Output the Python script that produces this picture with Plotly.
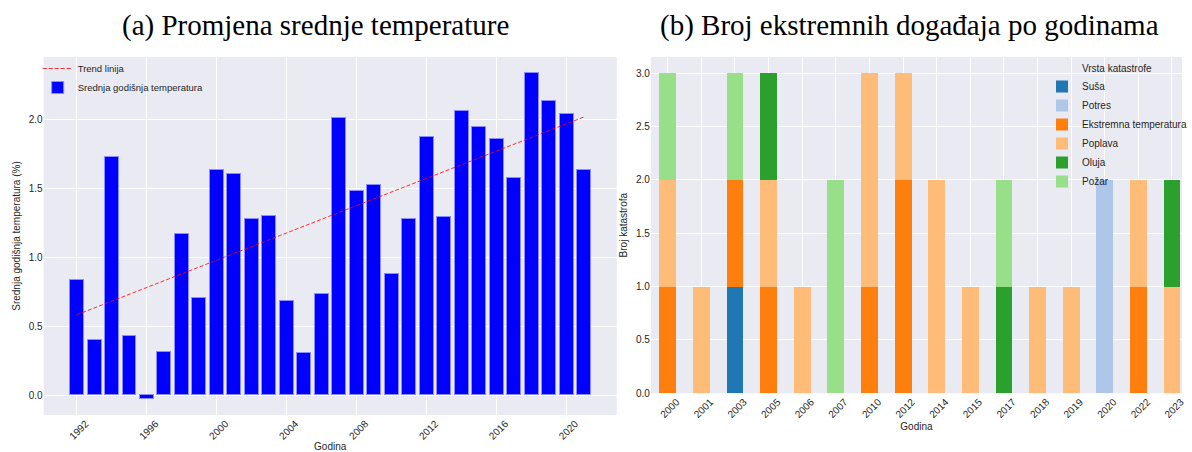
import numpy as np
import plotly.graph_objects as go

# ---------------- data ----------------
years_a = list(range(1992, 2022))
temp_a = [0.833, 0.403, 1.725, 0.432, -0.029, 0.314, 1.167, 0.707, 1.630, 1.604,
          1.275, 1.297, 0.681, 0.309, 0.736, 2.007, 1.478, 1.522, 0.881, 1.275,
          1.870, 1.290, 2.058, 1.944, 1.855, 1.572, 2.333, 2.130, 2.038, 1.630]
ticks_a = [1992, 1996, 2000, 2004, 2008, 2012, 2016, 2020]

years_b = ["2000", "2001", "2003", "2005", "2006", "2007", "2010", "2012",
           "2014", "2015", "2017", "2018", "2019", "2020", "2022", "2023"]
susa = [0, 0, 1, 0, 0, 0, 0, 0, 0, 0, 0, 0, 0, 0, 0, 0]
potres = [0, 0, 0, 0, 0, 0, 0, 0, 0, 0, 0, 0, 0, 2, 0, 0]
ekstremna = [1, 0, 1, 1, 0, 0, 1, 2, 0, 0, 0, 0, 0, 0, 1, 0]
poplava = [1, 1, 0, 1, 1, 0, 2, 1, 2, 1, 0, 1, 1, 0, 1, 1]
oluja = [0, 0, 0, 1, 0, 0, 0, 0, 0, 0, 1, 0, 0, 0, 0, 1]
pozar = [1, 0, 1, 0, 0, 2, 0, 0, 0, 0, 1, 0, 0, 0, 0, 0]
series_b = [("Suša", susa, "#1f77b4"), ("Potres", potres, "#aec7e8"),
            ("Ekstremna temperatura", ekstremna, "#ff7f0e"),
            ("Poplava", poplava, "#ffbb78"), ("Oluja", oluja, "#2ca02c"),
            ("Požar", pozar, "#98df8a")]

W, H = 1192, 452
FONT = "Liberation Sans, Arial, sans-serif"
TXT = "#262626"

fig = go.Figure()

# trend line (least-squares fit of the annual values)
coef = np.polyfit(years_a, temp_a, 1)
trend_x = [years_a[0], years_a[-1]]
trend_y = [float(np.polyval(coef, x)) for x in trend_x]

fig.add_trace(go.Bar(x=years_a, y=temp_a, width=0.8, name="Srednja godišnja temperatura",
                     marker=dict(color="#0000ff", line=dict(color="rgba(140,140,255,1)", width=1)),
                     xaxis="x", yaxis="y", legend="legend", legendrank=2))
fig.add_trace(go.Scatter(x=trend_x, y=trend_y, mode="lines", name="Trend linija",
                         line=dict(color="rgba(255,0,0,0.8)", width=1, dash="4px,2px"),
                         xaxis="x", yaxis="y", legend="legend", legendrank=1))

for name, vals, col in series_b:
    fig.add_trace(go.Bar(x=years_b, y=vals, width=0.5, name=name,
                         marker=dict(color=col, line=dict(width=0)),
                         xaxis="x2", yaxis="y2", legend="legend2"))

def px(v, total):
    return v / total

grid = dict(showgrid=True, gridcolor="white", gridwidth=1, zeroline=False,
            showline=False, ticks="", automargin=False,
            tickfont=dict(family=FONT, size=10, color=TXT),
            title_font=dict(family=FONT, size=10, color=TXT))

fig.update_layout(
    width=W, height=H,
    margin=dict(l=0, r=0, t=0, b=0),
    paper_bgcolor="white", plot_bgcolor="#eaeaf2",
    barmode="stack", bargap=0,
    font=dict(family=FONT, color=TXT),
    xaxis=dict(domain=[px(44, W), px(622, W)], range=[1990.11, 2022.89],
               tickvals=ticks_a, tickangle=-45, ticklabelshift=9,
               title=dict(text="Godina", standoff=4), anchor="y", **grid),
    yaxis=dict(domain=[1 - 415 / H, 1 - 57 / H], range=[-0.143, 2.45],
               tickvals=[0, 0.5, 1.0, 1.5, 2.0], tickformat=".1f",
               title=dict(text="Srednja godišnja temperatura (%)", standoff=6),
               anchor="x", **grid),
    xaxis2=dict(domain=[px(656.4, W), 1.0], range=[-0.5, 15.3], type="category",
                tickangle=-45, ticklabelshift=9,
                title=dict(text="Godina", standoff=4), anchor="y2", **grid),
    yaxis2=dict(domain=[1 - 393.3 / H, 1 - 57 / H], range=[0, 3.15],
                tickvals=[0, 0.5, 1.0, 1.5, 2.0, 2.5, 3.0], tickformat=".1f",
                title=dict(text="Broj katastrofa", standoff=6), anchor="x2", **grid),
    legend=dict(x=px(38, W), y=1 - 54 / H, xanchor="left", yanchor="top",
                bgcolor="rgba(0,0,0,0)", font=dict(family=FONT, size=9.5, color=TXT),
                tracegroupgap=0, traceorder="normal"),
    legend2=dict(x=px(1051, W), y=1 - 59 / H, xanchor="left", yanchor="top",
                 bgcolor="rgba(0,0,0,0)", font=dict(family=FONT, size=10, color=TXT),
                 title=dict(text="Vrsta katastrofe", side="top center",
                            font=dict(family=FONT, size=10, color=TXT)),
                 tracegroupgap=0, traceorder="normal"),
    showlegend=True,
)

fig.add_annotation(text="(a) Promjena srednje temperature", x=318 / W, y=1 - 25 / H,
                   xref="paper", yref="paper", showarrow=False, xanchor="center", yanchor="middle",
                   font=dict(family="Liberation Serif, Times New Roman, serif", size=29, color="black"))
fig.add_annotation(text="(b) Broj ekstremnih događaja po godinama", x=917 / W, y=1 - 25 / H,
                   xref="paper", yref="paper", showarrow=False, xanchor="center", yanchor="middle",
                   font=dict(family="Liberation Serif, Times New Roman, serif", size=29, color="black"))

fig.write_html("out.html")
